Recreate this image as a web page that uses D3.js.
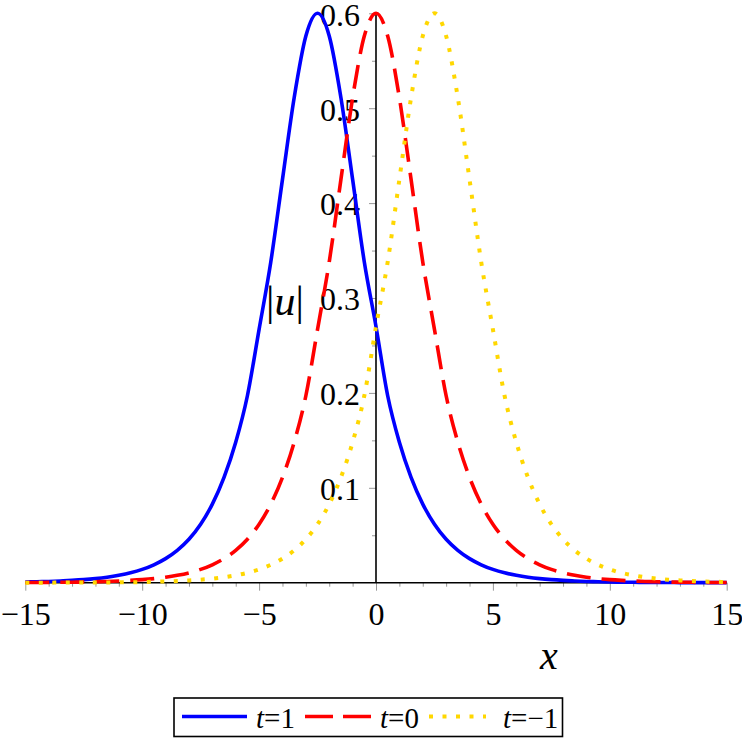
<!DOCTYPE html>
<html lang="en">
<head>
<meta charset="utf-8">
<script src="https://d3js.org/d3.v7.min.js"></script>
<style>
  body { margin: 0; background: #fff; }
  svg { display: block; font-family: "Liberation Serif", "Times New Roman", serif; }
  svg text { font-family: "Liberation Serif", "Times New Roman", serif; }
  .tick line { stroke: #999; }
</style>
</head>
<body>
<div id="chart"></div>
<script>
// sample positions along x
var xs = [-15,-14.5,-14,-13.5,-13,-12.5,-12,-11.5,-11,-10.5,-10,-9.5,-9,-8.5,-8,-7.5,-7,-6.5,-6,-5.5,
          -5,-4.5,-4,-3.5,-3,-2.5,-2,-1.5,-1,-0.5,0,0.5,1,1.5,2,2.5,3,3.5,4,4.5,5,5.5,6,6.5,7,7.5,
          8,8.5,9,9.5,10,10.5,11,11.5,12,12.5,13,13.5,14,14.5,15];

// |u| for t=1, t=0, t=-1
var uT1 = [0.0007,0.0010,0.0013,0.0018,0.0024,0.0032,0.0043,0.0058,0.0078,0.0104,0.0140,0.0189,0.0254,
           0.0341,0.0458,0.0616,0.0828,0.111,0.148,0.197,0.267,0.338,0.425,0.511,0.576,0.600,0.576,
           0.511,0.425,0.338,0.270,0.197,0.148,0.111,0.0828,0.0616,0.0458,0.0341,0.0254,0.0189,0.0140,
           0.0104,0.0078,0.0058,0.0043,0.0032,0.0024,0.0018,0.0013,0.0010,0.0007,0.0005,0.0004,0.0003,
           0.0002,0.00017,0.00013,0.0001,0.00007,0.00005,0.00004];
var uT0 = [0.00017,0.0002,0.0003,0.0004,0.0005,0.0007,0.0010,0.0013,0.0018,0.0024,0.0032,0.0043,0.0058,
           0.0078,0.0104,0.0140,0.0189,0.0254,0.0341,0.0458,0.0616,0.0828,0.111,0.148,0.197,0.267,0.338,
           0.425,0.511,0.576,0.600,0.576,0.511,0.425,0.338,0.267,0.197,0.148,0.111,0.0828,0.0616,0.0458,
           0.0341,0.0254,0.0189,0.0140,0.0104,0.0078,0.0058,0.0043,0.0032,0.0024,0.0018,0.0013,0.0010,
           0.0007,0.0005,0.0004,0.0003,0.0002,0.00017];
var uTm1 = [0.00004,0.00005,0.00007,0.0001,0.00013,0.00017,0.0002,0.0003,0.0004,0.0005,0.0007,0.0010,
            0.0013,0.0018,0.0024,0.0032,0.0043,0.0058,0.0078,0.0104,0.0140,0.0189,0.0254,0.0341,0.0458,
            0.0616,0.0828,0.111,0.148,0.197,0.270,0.338,0.425,0.511,0.576,0.600,0.576,0.511,0.425,0.338,
            0.267,0.197,0.148,0.111,0.0828,0.0616,0.0458,0.0341,0.0254,0.0189,0.0140,0.0104,0.0078,
            0.0058,0.0043,0.0032,0.0024,0.0018,0.0013,0.0010,0.0007];

var xMajor = [-15,-10,-5,0,5,10,15];
var xMinor = [-14,-13,-12,-11,-9,-8,-7,-6,-4,-3,-2,-1,1,2,3,4,6,7,8,9,11,12,13,14];
var yMajor = [0.1,0.2,0.3,0.4,0.5,0.6];
var yMinor = [0.05,0.15,0.25,0.35,0.45,0.55];

var legendLabels = ["1", "0", "\u22121"];

var width = 742, height = 739;
var serif = '"Liberation Serif", "Times New Roman", serif';

var svg = d3.select("#chart").append("svg")
    .attr("width", width)
    .attr("height", height);

var x = d3.scaleLinear().domain([-15, 15]).range([25.3, 726.7]);
var y = d3.scaleLinear().domain([0, 0.6]).range([582.7, 13.3]);

// x axis: minor then major ticks
svg.append("g")
    .attr("transform", `translate(0,${y(0)})`)
    .call(d3.axisBottom(x).tickValues(xMinor).tickSize(4).tickFormat(""))
    .call(g => g.select(".domain").remove());

var gx = svg.append("g")
    .attr("transform", `translate(0,${y(0)})`)
    .call(d3.axisBottom(x).tickValues(xMajor).tickSize(8).tickPadding(12).tickFormat(d3.format("d")))
    .call(g => g.select(".domain").remove())
    .attr("font-family", serif).attr("font-size", 32);
gx.selectAll("text").attr("fill", "#000")
    .text(d => d < 0 ? "\u2212" + Math.abs(d) : d);

// y axis on x=0
svg.append("g")
    .attr("transform", `translate(${x(0)},0)`)
    .call(d3.axisLeft(y).tickValues(yMinor).tickSize(4).tickFormat(""))
    .call(g => g.select(".domain").remove());

var gy = svg.append("g")
    .attr("transform", `translate(${x(0)},0)`)
    .call(d3.axisLeft(y).tickValues(yMajor).tickSize(7).tickPadding(9).tickFormat(d3.format(".1f")))
    .call(g => g.select(".domain").remove())
    .attr("font-family", serif).attr("font-size", 32);
gy.selectAll("text").attr("fill", "#000").attr("dy", "0.37em");

// axis lines
svg.append("line")
    .attr("x1", x(-15)).attr("x2", x(15))
    .attr("y1", y(0)).attr("y2", y(0))
    .attr("stroke", "#000").attr("stroke-width", 1.6);
svg.append("line")
    .attr("x1", x(0)).attr("x2", x(0))
    .attr("y1", y(0.6)).attr("y2", y(0))
    .attr("stroke", "#000").attr("stroke-width", 1.6);

// axis titles
svg.append("text")
    .attr("x", 549).attr("y", 669)
    .attr("text-anchor", "middle")
    .style("font-size", "40px").style("font-style", "italic")
    .text("x");

var ulab = svg.append("text")
    .attr("x", 285).attr("y", 315)
    .attr("text-anchor", "middle")
    .style("font-size", "42px");
ulab.append("tspan").text("|");
ulab.append("tspan").style("font-style", "italic").text("u");
ulab.append("tspan").text("|");

// curves
var series = [
    { vals: uT1, color: "#0000ff", dash: null, w: 3.6 },
    { vals: uT0, color: "#ff0000", dash: "24,11", w: 3.6 },
    { vals: uTm1, color: "#ffd700", dash: "4,9.5", w: 4 }
];

var line = d3.line()
    .x((d, i) => x(xs[i]))
    .y(d => y(d))
    .curve(d3.curveMonotoneX);

series.forEach(s => {
    svg.append("path")
        .datum(s.vals)
        .attr("fill", "none")
        .attr("stroke", s.color)
        .attr("stroke-width", s.w)
        .attr("stroke-dasharray", s.dash)
        .attr("d", line);
});

// legend
var lg = svg.append("g");
lg.append("rect")
    .attr("x", 174).attr("y", 698)
    .attr("width", 388.5).attr("height", 38.5)
    .attr("fill", "#fff").attr("stroke", "#000").attr("stroke-width", 1.6);

var legendItems = [
    { x1: 182, x2: 247, tx: 256, color: "#0000ff", dash: null, w: 3.6 },
    { x1: 305, x2: 371, tx: 380, color: "#ff0000", dash: "28,10", w: 3.6 },
    { x1: 429, x2: 486, tx: 503, color: "#ffd700", dash: "4,9.5", w: 4 }
];
legendItems.forEach((it, i) => {
    lg.append("line")
        .attr("x1", it.x1).attr("x2", it.x2)
        .attr("y1", 716.5).attr("y2", 716.5)
        .attr("stroke", it.color).attr("stroke-width", it.w)
        .attr("stroke-dasharray", it.dash);
    var t = lg.append("text")
        .attr("x", it.tx).attr("y", 728)
        .style("font-size", "29px");
    t.append("tspan").style("font-style", "italic").text("t");
    t.append("tspan").text("=" + legendLabels[i]);
});
</script>
</body>
</html>
